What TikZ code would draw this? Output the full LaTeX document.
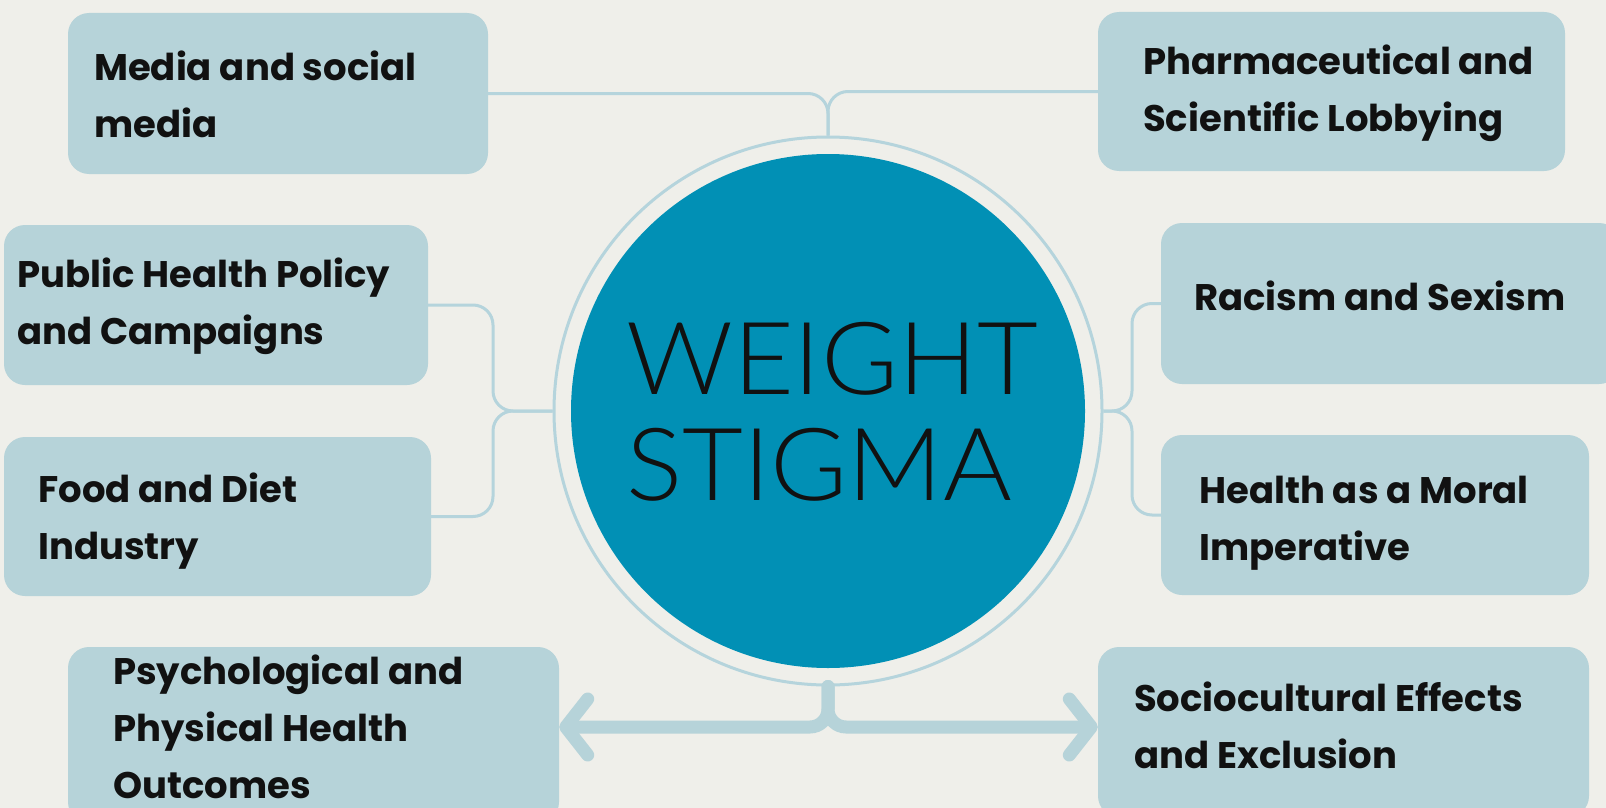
\documentclass[tikz,border=0pt]{standalone}
\usepackage{fontspec}
\setmainfont{Poppins}
\newfontfamily\titlefont{Lato}[UprightFont=* Light, FakeStretch=1.04]
\usetikzlibrary{arrows.meta}

\definecolor{paper}{HTML}{EFEFEA}
\definecolor{boxblue}{HTML}{B6D3D9}
\definecolor{linkblue}{HTML}{B5D4DC}
\definecolor{coreblue}{HTML}{0190B5}
\definecolor{ink}{HTML}{111111}

\tikzset{
  topic/.style={fill=boxblue, rounded corners=21pt, inner sep=0pt},
  topictext/.style={anchor=base west, align=left, inner sep=0pt, text=ink,
    font=\bfseries\fontsize{37}{57}\selectfont},
  link/.style={draw=linkblue, line width=3pt, rounded corners=20pt},
  outcome/.style={draw=boxblue, line width=13pt, rounded corners=18pt, line cap=round,
    -{Straight Barb[round, length=22pt, width=56pt]}}
}

\begin{document}
\begin{tikzpicture}[x=1pt,y=-1pt]
  \useasboundingbox (0,0) rectangle (1606,808);
  \clip (0,0) rectangle (1606,808);
  \fill[paper] (0,0) rectangle (1606,808);

  % the boxes round the centre
  \node[topic, minimum width=420pt, minimum height=161pt] (media) at (278,93.5) {};
  \node[topic, minimum width=467pt, minimum height=159pt] (pharma) at (1331.5,91.5) {};
  \node[topic, minimum width=424pt, minimum height=160pt] (policy) at (216,305) {};
  \node[topic, minimum width=427pt, minimum height=159pt] (food) at (217.5,516.5) {};
  \node[topic, minimum width=459pt, minimum height=161pt] (racism) at (1390.5,303.5) {};
  \node[topic, minimum width=428pt, minimum height=160pt] (moral) at (1375,515) {};
  \node[topic, minimum width=491pt, minimum height=176pt] (psych) at (313.5,735) {};
  \node[topic, minimum width=491pt, minimum height=170pt] (socio) at (1343.5,732) {};

  % circle and its ring
  \node[circle, draw=linkblue, line width=3pt, fill=paper, minimum size=548pt] (ring) at (828,411) {};

  % thin links into the ring
  \coordinate (lj) at (493,411);
  \coordinate (rj) at (1132,411);
  \draw[link] (media.east) -| (ring.north);
  \draw[link] (pharma.west) -| (ring.north);
  \draw[link] (policy.east) -| (lj) -- (ring.west);
  \draw[link] (food.east) -| (lj) -- (ring.west);
  \draw[link] (racism.west) -| (rj) -- (ring.east);
  \draw[link] (moral.west) -| (rj) -- (ring.east);

  % thick arrows out to the outcomes
  \coordinate (bj) at (828,727);
  \draw[outcome] (ring.south) |- (bj -| psych.east);
  \draw[outcome] (ring.south) |- (bj -| socio.west);

  \node[circle, fill=coreblue, minimum size=514pt, inner sep=0pt] (core) at (828,411) {};
  \node[anchor=base west, align=left, inner sep=0pt, text=ink,
    font=\titlefont\fontsize{101}{106}\selectfont] (title) at (626,500) {WEIGHT\\STIGMA};

  % labels (anchored at the last line)
  \node[topictext] (media-txt) at (94,137) {Media and social\\media};
  \node[topictext] (pharma-txt) at (1143,131) {Pharmaceutical and\\Scientific Lobbying};
  \node[topictext] (policy-txt) at (17,344) {Public Health Policy\\and Campaigns};
  \node[topictext] (food-txt) at (38,559) {Food and Diet\\Industry};
  \node[topictext] (racism-txt) at (1194,310) {Racism and Sexism};
  \node[topictext] (moral-txt) at (1199,560) {Health as a Moral\\Imperative};
  \node[topictext] (psych-txt) at (113,798) {Psychological and\\Physical Health\\Outcomes};
  \node[topictext] (socio-txt) at (1134,768) {Sociocultural Effects\\and Exclusion};
\end{tikzpicture}
\end{document}
